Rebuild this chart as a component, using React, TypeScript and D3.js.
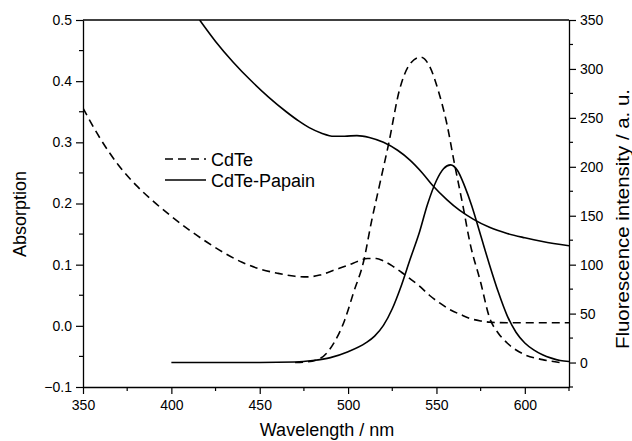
import React, { useEffect, useRef } from 'react'
import * as d3 from 'd3'

// absorption spectra (left axis)
const absCdTeNm = [350, 360, 370, 380, 390, 400, 410, 420, 430, 440, 450, 460, 470, 477, 484, 492, 500, 506, 511, 516, 520, 525, 530, 535, 540, 546, 552, 558, 564, 569, 575, 580, 590, 625]
const absCdTe = [0.356, 0.305, 0.263, 0.23, 0.203, 0.179, 0.157, 0.137, 0.119, 0.104, 0.093, 0.086, 0.081, 0.08, 0.083, 0.091, 0.099, 0.106, 0.11, 0.11, 0.106, 0.098, 0.088, 0.077, 0.066, 0.05, 0.037, 0.026, 0.018, 0.012, 0.008, 0.006, 0.005, 0.005]
const absPapainNm = [416, 425, 435, 445, 455, 465, 472, 478, 485, 492, 498, 505, 512, 520, 528, 535, 542, 548, 556, 563, 571, 580, 590, 600, 610, 625]
const absPapain = [0.5, 0.465, 0.431, 0.401, 0.374, 0.35, 0.335, 0.324, 0.315, 0.31, 0.31, 0.311, 0.308, 0.3, 0.287, 0.271, 0.25, 0.229, 0.206, 0.189, 0.174, 0.161, 0.151, 0.144, 0.138, 0.131]

// fluorescence spectra (right axis)
const flCdTeNm = [470, 476, 484, 492, 498, 503, 509, 513, 518, 523, 529, 535, 541, 546, 551, 556, 560, 565, 569, 575, 580, 585, 590, 600, 610, 620]
const flCdTe = [0, 0.5, 4, 20, 43, 71, 105, 142, 183, 224, 278, 305, 312, 303, 278, 243, 205, 160, 122, 82, 46, 30, 20, 8, 3, 0]
const flPapainNm = [400, 450, 470, 480, 490, 500, 510, 515, 520, 525, 530, 535, 540, 545, 550, 554, 558, 562, 566, 570, 575, 580, 585, 590, 595, 600, 605, 610, 615, 620, 625]
const flPapain = [0, 0, 0.5, 2, 5, 11, 20, 27, 38, 55, 78, 105, 131, 162, 186, 198, 202, 196, 180, 160, 130, 100, 72, 48, 31, 20, 13, 8, 4.5, 2, 1]

const xTicks = [350, 400, 450, 500, 550, 600]
const leftTicks = [-0.1, 0, 0.1, 0.2, 0.3, 0.4, 0.5]
const rightTicks = [0, 50, 100, 150, 200, 250, 300, 350]

const FONT = '"Liberation Sans", Arial, sans-serif'

function drawChart(el: SVGSVGElement) {
  const svg = d3.select(el)
  svg.selectAll('*').remove()

  const left = 83, right = 569, top = 20, bottom = 387

  const x = d3.scaleLinear().domain([350, 625]).range([left, right])
  const yL = d3.scaleLinear().domain([-0.1, 0.5]).range([bottom, top])
  const yR = d3.scaleLinear().domain([-25, 350]).range([bottom, top])

  svg.append('clipPath').attr('id', 'plotclip')
    .append('rect').attr('x', left).attr('y', top).attr('width', right - left).attr('height', bottom - top)

  const plot = svg.append('g').attr('clip-path', 'url(#plotclip)')

  const lineL = d3.line<[number, number]>().x(d => x(d[0])).y(d => yL(d[1])).curve(d3.curveMonotoneX)
  const lineR = d3.line<[number, number]>().x(d => x(d[0])).y(d => yR(d[1])).curve(d3.curveMonotoneX)

  const series = [
    { d: lineL(d3.zip(absCdTeNm, absCdTe) as [number, number][]), dash: '8,5' },
    { d: lineL(d3.zip(absPapainNm, absPapain) as [number, number][]), dash: null },
    { d: lineR(d3.zip(flCdTeNm, flCdTe) as [number, number][]), dash: '8,5' },
    { d: lineR(d3.zip(flPapainNm, flPapain) as [number, number][]), dash: null },
  ]
  series.forEach(s => {
    plot.append('path')
      .attr('d', s.d)
      .attr('fill', 'none')
      .attr('stroke', '#000')
      .attr('stroke-width', 1.6)
      .attr('stroke-dasharray', s.dash)
  })

  // frame: top line
  svg.append('line').attr('x1', left).attr('x2', right).attr('y1', top).attr('y2', top)
    .attr('stroke', '#000').attr('stroke-width', 1.3)

  const styleAxis = (g: d3.Selection<SVGGElement, unknown, null, undefined>) => {
    g.selectAll('path.domain').attr('stroke-width', 1.3)
    g.selectAll('line').attr('stroke-width', 1.2)
    g.selectAll('text').attr('font-family', FONT).attr('font-size', 14).attr('fill', '#000')
  }

  // minor ticks
  const xMinor = d3.range(375, 626, 50)
  const lMinor = d3.range(-0.05, 0.5, 0.1)
  const rMinor = d3.range(-25, 351, 50)

  const gx = svg.append('g').attr('transform', `translate(0,${bottom})`)
    .call(d3.axisBottom(x).tickValues(xTicks).tickSize(7).tickSizeOuter(0).tickPadding(6).tickFormat(d3.format('d')))
  gx.selectAll('.minor').data(xMinor).enter().append('line')
    .attr('x1', d => x(d)).attr('x2', d => x(d)).attr('y1', 0).attr('y2', 4).attr('stroke', '#000')
  styleAxis(gx)

  const gl = svg.append('g').attr('transform', `translate(${left},0)`)
    .call(d3.axisLeft(yL).tickValues(leftTicks).tickSize(7).tickSizeOuter(0).tickPadding(4).tickFormat(d3.format('.1f')))
  gl.selectAll('.minor').data(lMinor).enter().append('line')
    .attr('y1', d => yL(d)).attr('y2', d => yL(d)).attr('x1', 0).attr('x2', -4).attr('stroke', '#000')
  styleAxis(gl)

  const gr = svg.append('g').attr('transform', `translate(${right},0)`)
    .call(d3.axisRight(yR).tickValues(rightTicks).tickSize(7).tickSizeOuter(0).tickPadding(4).tickFormat(d3.format('d')))
  gr.selectAll('.minor').data(rMinor).enter().append('line')
    .attr('y1', d => yR(d)).attr('y2', d => yR(d)).attr('x1', 0).attr('x2', 4).attr('stroke', '#000')
  styleAxis(gr)

  // titles
  svg.append('text').attr('x', 327).attr('y', 436)
    .attr('text-anchor', 'middle').attr('font-family', FONT).attr('font-size', 18).text('Wavelength / nm')
  svg.append('text').attr('transform', `translate(26,214) rotate(-90)`)
    .attr('text-anchor', 'middle').attr('font-family', FONT).attr('font-size', 18).text('Absorption')
  svg.append('text').attr('transform', `translate(629,219) rotate(-90)`)
    .attr('text-anchor', 'middle').attr('font-family', FONT).attr('font-size', 18)
    .attr('textLength', 260).attr('lengthAdjust', 'spacingAndGlyphs')
    .text('Fluorescence intensity / a. u.')

  // legend
  const legend = [
    { label: 'CdTe', dash: '8,5' },
    { label: 'CdTe-Papain', dash: null },
  ]
  legend.forEach((l, i) => {
    const ly = 159 + i * 21
    svg.append('line').attr('x1', 165).attr('x2', 206).attr('y1', ly).attr('y2', ly)
      .attr('stroke', '#000').attr('stroke-width', 1.6).attr('stroke-dasharray', l.dash)
    svg.append('text').attr('x', 211).attr('y', ly + 6.5)
      .attr('font-family', FONT).attr('font-size', 18).text(l.label)
  })
}

const App = () => {
  const ref = useRef<SVGSVGElement>(null)
  useEffect(() => {
    if (ref.current) drawChart(ref.current)
  })
  return (
    <svg ref={ref} width={632} height={441}
      style={{ position: 'absolute', left: 0, top: 0, background: '#fff' }} />
  )
}

export default App
